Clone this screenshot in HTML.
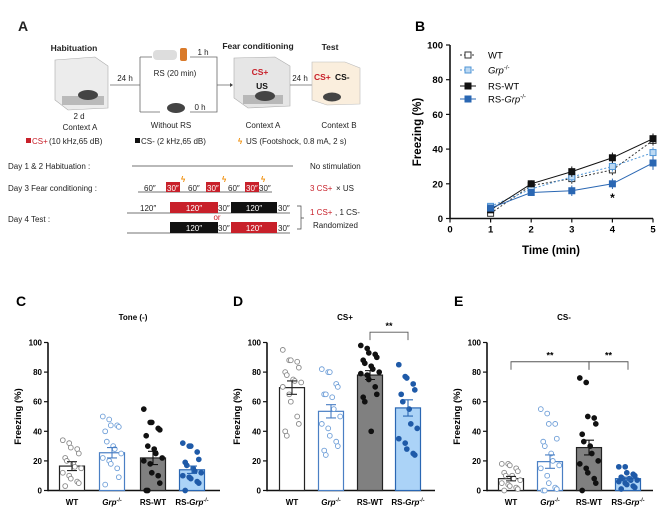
<!DOCTYPE html>
<html><head><meta charset="utf-8"><style>
body{margin:0;background:#fff}
svg{display:block;font-family:"Liberation Sans",Arial,sans-serif}
</style></head><body>
<svg id="fig" width="669" height="528" viewBox="0 0 669 528">
<!-- Panel A -->
<g font-size="8" fill="#222">
<text x="18" y="31" font-size="14" font-weight="bold">A</text>
<text x="74" y="51" text-anchor="middle" font-weight="bold" font-size="8.5">Habituation</text>
<g>
<polygon points="55,60 95,57 108,66 108,108 68,110 55,100" fill="#ececec" stroke="#aaa" stroke-width="0.6"/>
<rect x="62" y="96" width="42" height="9" fill="#999" opacity="0.6"/>
<ellipse cx="88" cy="95" rx="10" ry="5" fill="#444"/>
</g>
<text x="79" y="119" text-anchor="middle">2 d</text>
<text x="80" y="130" text-anchor="middle">Context A</text>
<line x1="110" y1="85" x2="140" y2="85" stroke="#666" stroke-width="0.8"/>
<text x="125" y="81" text-anchor="middle">24 h</text>
<path d="M140,57 V112 M140,57 H152 M140,112 H160" stroke="#666" stroke-width="0.8" fill="none"/>
<rect x="153" y="50" width="24" height="10" rx="4" fill="#ddd"/><rect x="180" y="48" width="7" height="13" rx="2" fill="#d97a2a"/>
<text x="175" y="76" text-anchor="middle">RS (20 min)</text>
<text x="203" y="55" text-anchor="middle">1 h</text>
<text x="200" y="110" text-anchor="middle">0 h</text>
<ellipse cx="176" cy="108" rx="9" ry="5" fill="#444"/>
<path d="M190,57 H217 V112 H190 M217,85 H230" stroke="#666" stroke-width="0.8" fill="none"/>
<polygon points="230,83 233,85 230,87" fill="#444"/>
<text x="171" y="128" text-anchor="middle">Without RS</text>
<text x="258" y="49" text-anchor="middle" font-weight="bold" font-size="8.5">Fear conditioning</text>
<g>
<polygon points="234,58 275,57 290,66 290,106 248,108 234,98" fill="#e6e6e6" stroke="#aaa" stroke-width="0.6"/>
<rect x="243" y="95" width="40" height="9" fill="#999" opacity="0.6"/>
<ellipse cx="265" cy="96" rx="10" ry="5" fill="#444"/>
<text x="260" y="75" text-anchor="middle" fill="#c8202a" font-weight="bold" font-size="8.5">CS+</text>
<text x="262" y="89" text-anchor="middle" font-weight="bold" font-size="8.5" fill="#111">US</text>
</g>
<line x1="290" y1="85" x2="312" y2="85" stroke="#666" stroke-width="0.8"/>
<text x="300" y="81" text-anchor="middle">24 h</text>
<text x="330" y="50" text-anchor="middle" font-weight="bold" font-size="8.5">Test</text>
<g>
<polygon points="312,62 345,62 360,68 360,104 327,105 312,100" fill="#faeedd" stroke="#bbb" stroke-width="0.6"/>
<text x="314" y="80" fill="#c8202a" font-weight="bold" font-size="8.5">CS+</text>
<text x="335" y="80" font-weight="bold" font-size="8.5" fill="#111">CS-</text>
<ellipse cx="332" cy="97" rx="9" ry="4.5" fill="#444"/>
</g>
<text x="263" y="128" text-anchor="middle">Context A</text>
<text x="339" y="128" text-anchor="middle">Context B</text>
<g>
<rect x="26" y="138" width="5" height="5" fill="#c8202a"/><text x="32" y="144" fill="#c8202a">CS+</text><text x="49" y="144"> (10 kHz,65 dB)</text>
<rect x="135" y="138" width="5" height="5" fill="#111"/><text x="141" y="144">CS- (2 kHz,65 dB)</text>
<text x="238" y="144" fill="#f08a00" font-weight="bold">ϟ</text><text x="246" y="144">US (Footshock, 0.8 mA, 2 s)</text>
</g>
<g>
<text x="8" y="169">Day 1 &amp; 2  Habituation :</text>
<line x1="132" y1="166" x2="293" y2="166" stroke="#444" stroke-width="0.7"/>
<text x="310" y="169">No stimulation</text>
<text x="8" y="191">Day 3  Fear conditioning :</text>
<line x1="138" y1="192" x2="272" y2="192" stroke="#444" stroke-width="0.7"/>
<text x="144" y="191">60″</text>
<rect x="166" y="182" width="14" height="10" fill="#c8202a"/><text x="167" y="191" fill="#fff">30″</text>
<text x="188" y="191">60″</text>
<rect x="206" y="182" width="14" height="10" fill="#c8202a"/><text x="207" y="191" fill="#fff">30″</text>
<text x="228" y="191">60″</text>
<rect x="245" y="182" width="14" height="10" fill="#c8202a"/><text x="246" y="191" fill="#fff">30″</text>
<text x="259" y="191">30″</text>
<text x="181" y="182" fill="#f08a00" font-weight="bold">ϟ</text><text x="222" y="182" fill="#f08a00" font-weight="bold">ϟ</text><text x="261" y="182" fill="#f08a00" font-weight="bold">ϟ</text>
<text x="310" y="191" fill="#c8202a">3 CS+</text><text x="336" y="191"> × US</text>
<text x="8" y="222">Day 4    Test :</text>
<line x1="127" y1="213" x2="290" y2="213" stroke="#444" stroke-width="0.7"/>
<text x="140" y="211">120″</text>
<rect x="170" y="202" width="48" height="11" fill="#c8202a"/><text x="194" y="211" fill="#fff" text-anchor="middle">120″</text>
<text x="218" y="211">30″</text>
<rect x="231" y="202" width="46" height="11" fill="#111"/><text x="254" y="211" fill="#fff" text-anchor="middle">120″</text>
<text x="278" y="211">30″</text>
<text x="217" y="220" fill="#c8202a" text-anchor="middle">or</text>
<line x1="127" y1="233" x2="290" y2="233" stroke="#444" stroke-width="0.7"/>
<rect x="170" y="222" width="48" height="11" fill="#111"/><text x="194" y="231" fill="#fff" text-anchor="middle">120″</text>
<text x="218" y="231">30″</text>
<rect x="231" y="222" width="46" height="11" fill="#c8202a"/><text x="254" y="231" fill="#fff" text-anchor="middle">120″</text>
<text x="278" y="231">30″</text>
<path d="M297,206 H301 V229 H297 M301,218 H304" stroke="#444" stroke-width="0.7" fill="none"/>
<text x="310" y="215" fill="#c8202a">1 CS+</text><text x="335" y="215"> , 1 CS-</text>
<text x="313" y="228">Randomized</text>
</g>
</g>
<g id="pb"></g>
<g id="pc"></g>
<g id="pd"></g>
<g id="pe"></g>
</svg>
<script>
const NS="http://www.w3.org/2000/svg";
function mk(p,tag,a,txt){const e=document.createElementNS(NS,tag);for(const k in a)e.setAttribute(k,a[k]);if(txt!==undefined)e.textContent=txt;p.appendChild(e);return e;}

// ---- Panel B data ----
const bTimes=[1,2,3,4,5];
const bXTicks=[0,1,2,3,4,5];
const bYTicks=[0,20,40,60,80,100];
const bWT=[3,19,23,28,45];
const bWTerr=[1,2,3,3,3];
const bGrp=[7,17,24,30,38];
const bGrpErr=[1.5,2,3,3,3];
const bRSWT=[5,20,27,35,46];
const bRSWTerr=[1,2,3,3,3];
const bRSGrp=[6,15,16,20,32];
const bRSGrpErr=[1.5,2,3,3,4];

// ---- Bar panel data ----
const groups=["WT","Grp","RS-WT","RS-Grp"];
const cMeans=[16.5,25.5,22,14];
const cErr=[3,3.5,4.5,2.5];
const cWT=[34,32,29,28,25,22,20,18,16,15,12,10,8,6,5,3];
const cGrp=[50,48,44,44,43,40,33,30,28,25,22,20,18,15,9,4];
const cRSWT=[55,46,46,42,41,37,30,28,25,22,20,18,12,10,5,0,0];
const cRSGrp=[32,30,30,26,21,19,17,15,13,12,10,9,8,6,5,0];
const dMeans=[69.5,53.5,78,55.8];
const dErr=[4.5,4.5,3,5.5];
const dWT=[95,88,88,87,83,80,78,75,74,73,70,65,60,50,45,40,37];
const dGrp=[82,80,80,72,70,65,65,63,55,50,45,42,37,33,30,27,24];
const dRSWT=[98,96,93,92,90,88,86,84,82,80,79,78,75,70,65,63,60,40];
const dRSGrp=[85,77,76,72,68,65,60,55,45,42,35,32,28,25,24];
const eMeans=[8,19.5,29,8];
const eErr=[1.5,4.5,5,1];
const eWT=[18,18,17,15,13,12,10,10,8,7,5,4,3,2,1,0];
const eGrp=[55,52,45,45,35,33,30,25,20,17,15,10,5,2,1,0,0];
const eRSWT=[76,73,50,49,45,38,33,30,25,20,18,15,12,8,5,0];
const eRSGrp=[16,16,12,11,10,9,8,8,7,7,6,5,4,3,2,1];
const barYTicks=[0,20,40,60,80,100];

// ---- Panel B ----
(function(){
const g=document.getElementById('pb');
const X=t=>450+t*40.6, Y=v=>218.5-v*1.735;
const l=mk(g,'text',{x:415,y:31,'font-size':14,'font-weight':'bold'},'B');


mk(g,'line',{x1:450,y1:Y(100),x2:450,y2:Y(0),stroke:'#111','stroke-width':1.6});
mk(g,'line',{x1:450,y1:Y(0),x2:X(5),y2:Y(0),stroke:'#111','stroke-width':1.6});
bYTicks.forEach(v=>{mk(g,'line',{x1:446,y1:Y(v),x2:450,y2:Y(v),stroke:'#111','stroke-width':1.2});
 const t=mk(g,'text',{x:443,y:Y(v)+3.5,'text-anchor':'end','font-size':9.5,'font-weight':'bold'},v);
 });
bXTicks.forEach(v=>{mk(g,'line',{x1:X(v),y1:Y(0),x2:X(v),y2:Y(0)+4,stroke:'#111','stroke-width':1.2});
 const t=mk(g,'text',{x:X(v),y:Y(0)+14,'text-anchor':'middle','font-size':9.5,'font-weight':'bold'},v);
 });
const xt=mk(g,'text',{x:551,y:254,'text-anchor':'middle','font-size':11.5,'font-weight':'bold'},'Time (min)');

const yt=mk(g,'text',{x:0,y:0,transform:'translate(421,132) rotate(-90)','text-anchor':'middle','font-size':11.5,'font-weight':'bold'},'Freezing (%)');

const series=[
 {n:'wt',v:bWT,e:bWTerr,c:'#333',fill:'#fff',dash:'2,2'},
 {n:'grp',v:bGrp,e:bGrpErr,c:'#4f95d6',fill:'#bcd9f3',dash:'2,2'},
 {n:'rs-wt',v:bRSWT,e:bRSWTerr,c:'#111',fill:'#111',dash:''},
 {n:'rs-grp',v:bRSGrp,e:bRSGrpErr,c:'#2a67b3',fill:'#2a67b3',dash:''}];
series.forEach(s=>{
 const sg=mk(g,'g',{});
 
 mk(sg,'polyline',{points:bTimes.map((t,i)=>X(t)+','+Y(s.v[i])).join(' '),fill:'none',stroke:s.c,'stroke-width':1,'stroke-dasharray':s.dash});
 bTimes.forEach((t,i)=>{
  mk(sg,'line',{x1:X(t),y1:Y(s.v[i]-s.e[i]),x2:X(t),y2:Y(s.v[i]+s.e[i]),stroke:s.c,'stroke-width':1});
  const r=mk(sg,'rect',{x:X(t)-3,y:Y(s.v[i])-3,width:6,height:6,fill:s.fill,stroke:s.c,'stroke-width':1});
  
 });
});
const st=mk(g,'text',{x:X(4),y:Y(20)+18,'text-anchor':'middle','font-size':12,'font-weight':'bold'},'*');

const lg=mk(g,'g',{});

const labs=[['WT',''],['Grp','-/-'],['RS-WT',''],['RS-Grp','-/-']];
const ly=[55,70,86,99];
series.forEach((s,i)=>{
 mk(lg,'line',{x1:460,y1:ly[i],x2:476,y2:ly[i],stroke:s.c,'stroke-width':1,'stroke-dasharray':s.dash});
 mk(lg,'rect',{x:465,y:ly[i]-3,width:6,height:6,fill:s.fill,stroke:s.c,'stroke-width':1});
 const t=mk(lg,'text',{x:488,y:ly[i]+3.5,'font-size':9.5});
 if(labs[i][0]==='Grp'){mk(t,'tspan',{'font-style':'italic'},'Grp');}
 else if(labs[i][0]==='RS-Grp'){mk(t,'tspan',{},'RS-');mk(t,'tspan',{'font-style':'italic'},'Grp');}
 else t.textContent=labs[i][0];
 if(labs[i][1])mk(t,'tspan',{'font-size':6,dy:-4},labs[i][1]);
 
});
})();

// ---- Bar panels ----
const styles=[
 {fill:'#fff',stroke:'#222',pf:'#fff',ps:'#888'},
 {fill:'#fff',stroke:'#4a7fc4',pf:'#fff',ps:'#6f9fd8'},
 {fill:'#808080',stroke:'#222',pf:'#111',ps:'#111'},
 {fill:'#abd3f7',stroke:'#2a67b3',pf:'#1f5aa8',ps:'#1f5aa8'}];
function barPanel(id,letter,lx,title,tx,ax,axEnd,centers,means,errs,pts,brackets){
 const g=document.getElementById(id);
 const Y=v=>490.5-v*1.48;
 const L=mk(g,'text',{x:lx,y:306,'font-size':14,'font-weight':'bold'},letter);
 
 const T=mk(g,'text',{x:tx,y:320,'text-anchor':'middle','font-size':8,'font-weight':'bold'},title);
 
 mk(g,'line',{x1:ax,y1:Y(100),x2:ax,y2:Y(0)+0.8,stroke:'#111','stroke-width':1.6});
 mk(g,'line',{x1:ax,y1:Y(0),x2:axEnd,y2:Y(0),stroke:'#111','stroke-width':1.6});
 barYTicks.forEach(v=>{mk(g,'line',{x1:ax-4,y1:Y(v),x2:ax,y2:Y(v),stroke:'#111','stroke-width':1.2});
  const t=mk(g,'text',{x:ax-6,y:Y(v)+3,'text-anchor':'end','font-size':8,'font-weight':'bold'},v);
  });
 const yt=mk(g,'text',{x:0,y:0,transform:`translate(${ax-27},${Y(50)}) rotate(-90)`,'text-anchor':'middle','font-size':9.5,'font-weight':'bold'},'Freezing (%)');
 
 groups.forEach((gname,i)=>{
  const s=styles[i],cx=centers[i],w=25;
  const bar=mk(g,'rect',{x:cx-w/2,y:Y(means[i]),width:w,height:Y(0)-Y(means[i]),fill:s.fill,stroke:s.stroke,'stroke-width':1.2});
  
  pts[i].forEach((v,j)=>{
   const off=((j%5)-2)*4+((j%2)?1.2:-1.2);
   const c=mk(g,'circle',{cx:cx+off,cy:Y(v),r:2.4,fill:s.pf,stroke:s.ps,'stroke-width':0.9});
   
  });
  const ec=i===2?'#111':s.stroke;
  mk(g,'path',{d:`M${cx},${Y(means[i]-errs[i])}V${Y(means[i]+errs[i])}M${cx-5},${Y(means[i]+errs[i])}H${cx+5}M${cx-5},${Y(means[i]-errs[i])}H${cx+5}`,stroke:ec,'stroke-width':1.1,fill:'none'});
  const lab=mk(g,'text',{x:cx,y:505,'text-anchor':'middle','font-size':8,'font-weight':'bold'});
  if(gname==='Grp'){mk(lab,'tspan',{'font-style':'italic'},'Grp');mk(lab,'tspan',{'font-size':5.5,dy:-3.5},'-/-');}
  else if(gname==='RS-Grp'){mk(lab,'tspan',{},'RS-');mk(lab,'tspan',{'font-style':'italic'},'Grp');mk(lab,'tspan',{'font-size':5.5,dy:-3.5},'-/-');}
  else lab.textContent=gname;
  
 });
 brackets.forEach(b=>{
  const x1=centers[b[0]],x2=centers[b[1]],y=Y(b[2]);
  const p=mk(g,'path',{d:`M${x1},${y+8}V${y}H${x2}V${y+8}`,stroke:'#555','stroke-width':0.9,fill:'none'});
  
  const t=mk(g,'text',{x:(x1+x2)/2,y:y-3,'text-anchor':'middle','font-size':9,'font-weight':'bold'},'**');
  
 });
}
barPanel('pc','C',16,'Tone (-)',133,48,220,[72,112,153,192],cMeans,cErr,[cWT,cGrp,cRSWT,cRSGrp],[]);
barPanel('pd','D',233,'CS+',345,267,435,[292,331,370,408],dMeans,dErr,[dWT,dGrp,dRSWT,dRSGrp],[[2,3,107]]);
barPanel('pe','E',454,'CS-',564,487,653,[511,550,589,628],eMeans,eErr,[eWT,eGrp,eRSWT,eRSGrp],[[0,2,87],[2,3,87]]);
</script>
</body></html>
